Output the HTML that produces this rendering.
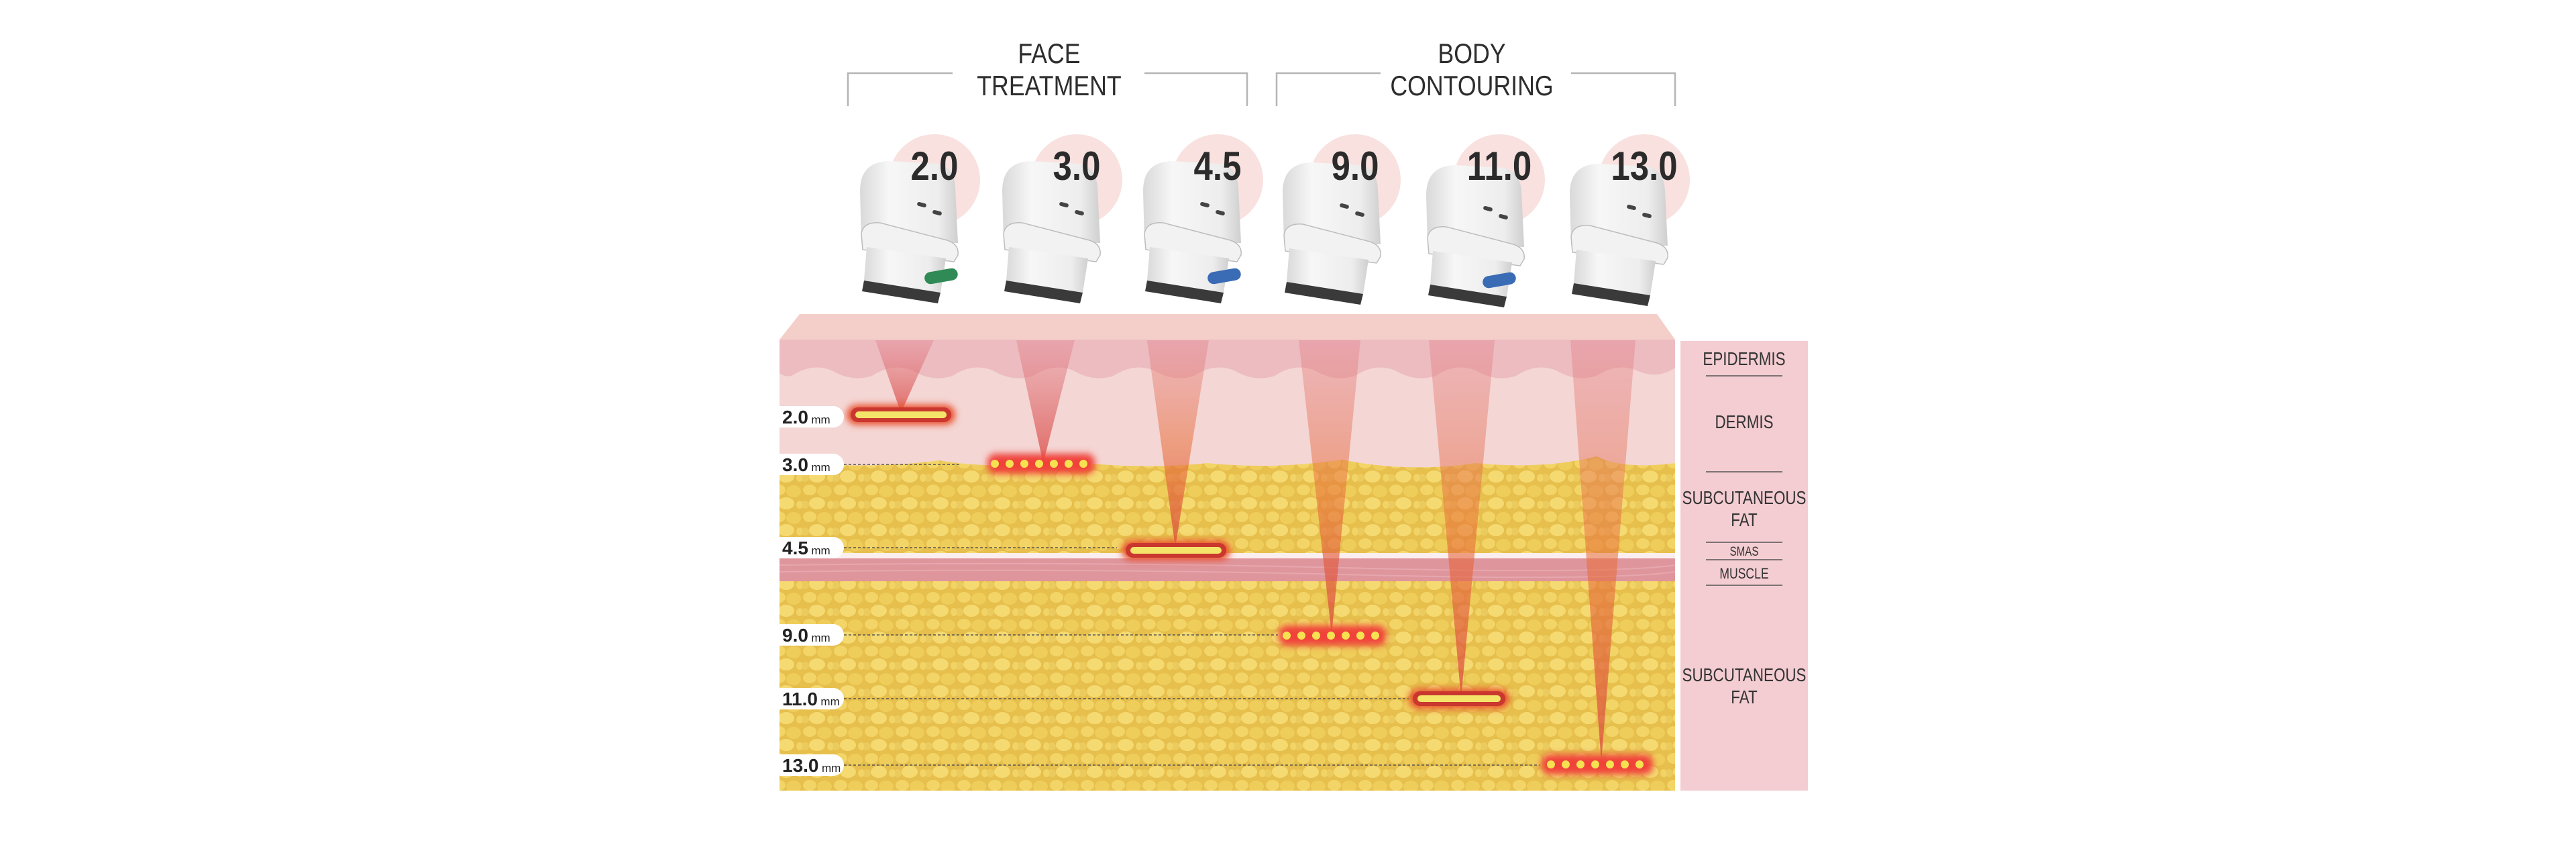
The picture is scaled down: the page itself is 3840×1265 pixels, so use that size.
<!DOCTYPE html>
<html><head><meta charset="utf-8"><style>
html,body{margin:0;padding:0;background:#fff;}
svg{display:block}
text{font-family:"Liberation Sans",sans-serif}
</style></head><body>
<svg width="3840" height="1265" viewBox="0 0 3840 1265" xmlns="http://www.w3.org/2000/svg">
<defs>
 <linearGradient id="hpg" x1="0" y1="0" x2="1" y2="0">
  <stop offset="0" stop-color="#d9d9d9"/><stop offset="0.3" stop-color="#f7f7f7"/><stop offset="0.8" stop-color="#ededed"/><stop offset="1" stop-color="#cfcfcf"/>
 </linearGradient>
 <linearGradient id="beam" x1="0" y1="0" x2="0" y2="1">
  <stop offset="0" stop-color="#e07a86" stop-opacity="0.35"/><stop offset="1" stop-color="#d9463f" stop-opacity="0.75"/>
 </linearGradient>
 <linearGradient id="beam2" x1="0" y1="0" x2="0" y2="1">
  <stop offset="0" stop-color="#e07a86" stop-opacity="0.35"/><stop offset="0.5" stop-color="#e8703a" stop-opacity="0.55"/><stop offset="1" stop-color="#d9463f" stop-opacity="0.75"/>
 </linearGradient>
 <pattern id="fat" width="46" height="40" patternUnits="userSpaceOnUse">
  <rect width="46" height="40" fill="#e6bf4c"/>
  <ellipse cx="11" cy="10" rx="10" ry="8" fill="#f3d567"/>
  <ellipse cx="33" cy="12" rx="11" ry="9" fill="#efcd5a"/>
  <ellipse cx="22" cy="30" rx="12" ry="9" fill="#f5da72"/>
  <ellipse cx="4" cy="32" rx="6" ry="6" fill="#eccb5e"/>
  <ellipse cx="42" cy="32" rx="5" ry="6" fill="#f1d366"/>
 </pattern>
 <filter id="glow" x="-30%" y="-200%" width="160%" height="500%"><feGaussianBlur stdDeviation="5"/></filter>
 <g id="hp">
  <path d="M0,45 Q0,0 45,0 L115,4 Q140,8 142,40 L146,122 L2,122 Z" fill="url(#hpg)"/>
  <rect x="85" y="62" width="14" height="6" rx="3" fill="#444" transform="rotate(15 92 65)"/>
  <rect x="108" y="74" width="14" height="6" rx="3" fill="#444" transform="rotate(15 115 77)"/>
  <path d="M2,108 Q5,90 30,92 L130,118 Q148,124 146,140 L140,150 L4,132 Z" fill="#f2f2f2" stroke="#bdbdbd" stroke-width="1.5"/>
  <path d="M10,128 L128,145 L120,196 L6,178 Z" fill="url(#hpg)"/>
  <path d="M6,178 L120,196 L116,212 L3,194 Z" fill="#3a3a3a"/>
 </g>
</defs>

<!-- headers -->
<g font-size="42" fill="#2d2d2d" text-anchor="middle">
 <text x="1564" y="94" transform="translate(1564 0) scale(0.85 1) translate(-1564 0)">FACE</text>
 <text x="1564" y="142" transform="translate(1564 0) scale(0.85 1) translate(-1564 0)">TREATMENT</text>
 <text x="2194" y="94" transform="translate(2194 0) scale(0.85 1) translate(-2194 0)">BODY</text>
 <text x="2194" y="142" transform="translate(2194 0) scale(0.85 1) translate(-2194 0)">CONTOURING</text>
</g>
<g stroke="#b5b5b5" stroke-width="2.5" fill="none">
 <path d="M1264,158 V109 H1420"/><path d="M1706,109 H1859 V158"/>
 <path d="M1903,158 V109 H2058"/><path d="M2342,109 H2497 V158"/>
</g>

<!-- circles -->
<g fill="#f8e1df">
 <circle cx="1393" cy="268" r="68"/><circle cx="1605" cy="268" r="68"/><circle cx="1815" cy="268" r="68"/>
 <circle cx="2020" cy="268" r="68"/><circle cx="2235" cy="268" r="68"/><circle cx="2451" cy="268" r="68"/>
</g>
<use href="#hp" x="1282" y="240"/>
<use href="#hp" x="1494" y="240"/>
<use href="#hp" x="1704" y="240"/>
<use href="#hp" x="1912" y="242"/>
<use href="#hp" x="2126" y="246"/>
<use href="#hp" x="2340" y="244"/>
<rect x="1378" y="403" width="50" height="18" rx="9" fill="#2f8a55" transform="rotate(-10 1400 412)"/>
<rect x="1800" y="403" width="50" height="18" rx="9" fill="#3a6bb5" transform="rotate(-10 1822 412)"/>
<rect x="2210" y="409" width="50" height="18" rx="9" fill="#3a6bb5" transform="rotate(-10 2232 418)"/>
<g font-size="60" font-weight="bold" fill="#2b2b2b" text-anchor="middle">
 <text x="1393" y="268" transform="translate(1393 0) scale(0.85 1) translate(-1393 0)">2.0</text>
 <text x="1605" y="268" transform="translate(1605 0) scale(0.85 1) translate(-1605 0)">3.0</text>
 <text x="1815" y="268" transform="translate(1815 0) scale(0.85 1) translate(-1815 0)">4.5</text>
 <text x="2020" y="268" transform="translate(2020 0) scale(0.85 1) translate(-2020 0)">9.0</text>
 <text x="2235" y="268" transform="translate(2235 0) scale(0.85 1) translate(-2235 0)">11.0</text>
 <text x="2451" y="268" transform="translate(2451 0) scale(0.85 1) translate(-2451 0)">13.0</text>
</g>

<!-- skin block -->
<path d="M1192,468 L2470,468 L2497,506 L1162,506 Z" fill="#f4cfc9"/>
<rect x="1162" y="506" width="1335" height="672" fill="url(#fat)"/>
<path d="M1162,506 H2497 V690 Q2420,700 2380,680 Q2300,700 2200,690 Q2100,705 2000,685 Q1900,700 1800,690 Q1700,700 1600,688 Q1480,700 1400,686 Q1300,700 1162,688 Z" fill="#f4d6d4"/>
<path d="M1162,506 H2497 V548 Q2470,566 2440,552 Q2410,540 2380,560 Q2350,570 2320,552 Q2290,540 2260,560 Q2230,570 2200,552 Q2170,540 2140,560 Q2110,570 2080,552 Q2050,540 2020,560 Q1990,570 1960,552 Q1930,540 1900,560 Q1870,570 1840,552 Q1810,540 1780,560 Q1750,570 1720,552 Q1690,540 1660,560 Q1630,570 1600,552 Q1570,540 1540,560 Q1510,570 1480,552 Q1450,540 1420,560 Q1390,570 1360,552 Q1330,540 1300,560 Q1270,570 1240,552 Q1210,540 1180,560 Q1170,562 1162,556 Z" fill="#ecbcc0"/>
<!-- SMAS + muscle -->
<rect x="1162" y="824" width="1335" height="8" fill="#fbeeee"/>
<rect x="1162" y="832" width="1335" height="34" fill="#df959c"/>
<g stroke="#eab0b6" stroke-width="2" fill="none" opacity="0.7">
 <path d="M1162,842 Q1600,836 2000,846 T2497,842"/><path d="M1162,852 Q1600,846 2000,856 T2497,852"/>
</g>

<!-- beams -->
<path d="M1305,507 L1392,507 L1343,615 Z" fill="url(#beam)"/>
<path d="M1515,507 L1602,507 L1555,690 Z" fill="url(#beam)"/>
<path d="M1710,507 L1802,507 L1752,815 Z" fill="url(#beam2)"/>
<path d="M1936,507 L2028,507 L1985,945 Z" fill="url(#beam2)"/>
<path d="M2130,507 L2228,507 L2178,1040 Z" fill="url(#beam2)"/>
<path d="M2341,507 L2438,507 L2387,1135 Z" fill="url(#beam2)"/>

<!-- dashed lines -->
<g stroke="#555" stroke-width="1.5" stroke-dasharray="4 3">
 <line x1="1258" y1="692" x2="1430" y2="692"/>
 <line x1="1258" y1="816" x2="1665" y2="816"/>
 <line x1="1258" y1="946" x2="1905" y2="946"/>
 <line x1="1258" y1="1041" x2="2100" y2="1041"/>
 <line x1="1258" y1="1140" x2="2295" y2="1140"/>
</g>

<!-- markers -->
<g>
 <rect x="1262" y="603" width="162" height="30" rx="15" fill="#e8512e" filter="url(#glow)"/>
 <rect x="1268" y="607" width="150" height="22" rx="11" fill="#c9372e"/>
 <rect x="1275" y="613" width="136" height="10" rx="5" fill="#f4e46a"/>
 <rect x="1672" y="805" width="162" height="30" rx="15" fill="#e8512e" filter="url(#glow)"/>
 <rect x="1678" y="809" width="150" height="22" rx="11" fill="#c9372e"/>
 <rect x="1685" y="815" width="136" height="10" rx="5" fill="#f4e46a"/>
 <rect x="2100" y="1026" width="150" height="30" rx="15" fill="#e8512e" filter="url(#glow)"/>
 <rect x="2106" y="1030" width="138" height="22" rx="11" fill="#c9372e"/>
 <rect x="2113" y="1036" width="124" height="10" rx="5" fill="#f4e46a"/>
 <rect x="1472" y="676" width="160" height="30" rx="12" fill="#f0433a" filter="url(#glow)"/>
 <rect x="1906" y="932" width="160" height="30" rx="12" fill="#f0433a" filter="url(#glow)"/>
 <rect x="2298" y="1124" width="166" height="30" rx="12" fill="#f0433a" filter="url(#glow)"/>
 <g fill="#f6e150">
  <circle cx="1483" cy="691" r="6"/><circle cx="1505" cy="691" r="6"/><circle cx="1527" cy="691" r="6"/><circle cx="1549" cy="691" r="6"/><circle cx="1571" cy="691" r="6"/><circle cx="1593" cy="691" r="6"/><circle cx="1615" cy="691" r="6"/>
  <circle cx="1918" cy="947" r="6"/><circle cx="1940" cy="947" r="6"/><circle cx="1962" cy="947" r="6"/><circle cx="1984" cy="947" r="6"/><circle cx="2006" cy="947" r="6"/><circle cx="2028" cy="947" r="6"/><circle cx="2050" cy="947" r="6"/>
  <circle cx="2312" cy="1139" r="6"/><circle cx="2334" cy="1139" r="6"/><circle cx="2356" cy="1139" r="6"/><circle cx="2378" cy="1139" r="6"/><circle cx="2400" cy="1139" r="6"/><circle cx="2422" cy="1139" r="6"/><circle cx="2444" cy="1139" r="6"/>
 </g>
</g>

<!-- depth labels -->
<g fill="#fff">
 <path d="M1162,605 H1242 A16,16 0 0 1 1242,637 H1162 Z"/>
 <path d="M1162,676 H1242 A16,16 0 0 1 1242,708 H1162 Z"/>
 <path d="M1162,800 H1242 A16,16 0 0 1 1242,832 H1162 Z"/>
 <path d="M1162,930 H1242 A16,16 0 0 1 1242,962 H1162 Z"/>
 <path d="M1162,1025 H1242 A16,16 0 0 1 1242,1057 H1162 Z"/>
 <path d="M1162,1124 H1242 A16,16 0 0 1 1242,1156 H1162 Z"/>
</g>
<g fill="#222">
 <text x="1166" y="631"><tspan font-size="28" font-weight="bold">2.0</tspan> <tspan font-size="17">mm</tspan></text>
 <text x="1166" y="702"><tspan font-size="28" font-weight="bold">3.0</tspan> <tspan font-size="17">mm</tspan></text>
 <text x="1166" y="826"><tspan font-size="28" font-weight="bold">4.5</tspan> <tspan font-size="17">mm</tspan></text>
 <text x="1166" y="956"><tspan font-size="28" font-weight="bold">9.0</tspan> <tspan font-size="17">mm</tspan></text>
 <text x="1166" y="1051"><tspan font-size="28" font-weight="bold">11.0</tspan> <tspan font-size="17">mm</tspan></text>
 <text x="1166" y="1150"><tspan font-size="28" font-weight="bold">13.0</tspan> <tspan font-size="17">mm</tspan></text>
</g>

<!-- right panel -->
<rect x="2505" y="508" width="190" height="670" fill="#f3cdd2"/>
<g stroke="#555" stroke-width="1.5">
 <line x1="2543" y1="560" x2="2657" y2="560"/>
 <line x1="2543" y1="703" x2="2657" y2="703"/>
 <line x1="2543" y1="808" x2="2657" y2="808"/>
 <line x1="2543" y1="834" x2="2657" y2="834"/>
 <line x1="2543" y1="872" x2="2657" y2="872"/>
</g>
<g fill="#333" text-anchor="middle">
 <text x="2600" y="544" font-size="28" transform="translate(2600 0) scale(0.8 1) translate(-2600 0)">EPIDERMIS</text>
 <text x="2600" y="638" font-size="28" transform="translate(2600 0) scale(0.8 1) translate(-2600 0)">DERMIS</text>
 <text x="2600" y="751" font-size="28" transform="translate(2600 0) scale(0.8 1) translate(-2600 0)">SUBCUTANEOUS</text>
 <text x="2600" y="784" font-size="28" transform="translate(2600 0) scale(0.8 1) translate(-2600 0)">FAT</text>
 <text x="2600" y="828" font-size="19" transform="translate(2600 0) scale(0.8 1) translate(-2600 0)">SMAS</text>
 <text x="2600" y="862" font-size="22" transform="translate(2600 0) scale(0.8 1) translate(-2600 0)">MUSCLE</text>
 <text x="2600" y="1015" font-size="28" transform="translate(2600 0) scale(0.8 1) translate(-2600 0)">SUBCUTANEOUS</text>
 <text x="2600" y="1048" font-size="28" transform="translate(2600 0) scale(0.8 1) translate(-2600 0)">FAT</text>
</g>
</svg>
</body></html>
